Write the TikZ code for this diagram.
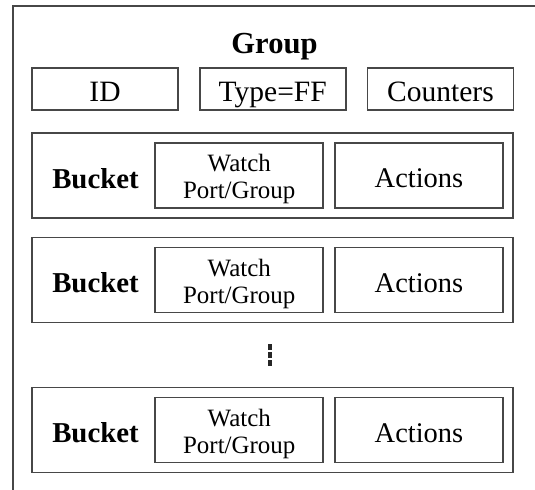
\documentclass[tikz,border=0pt]{standalone}
\usepackage{fontspec}
\setmainfont{Liberation Serif}
\usetikzlibrary{positioning}
\tikzset{
	box/.style={draw=black!72, line width=1pt, rectangle, inner sep=0pt, align=center},
	field/.style={box, minimum width=2.92cm, minimum height=0.84cm, text height=16pt, text depth=1.6pt, font=\fontsize{16.8}{18}\selectfont},
	bucketbox/.style={box, minimum width=9.62cm, minimum height=1.7cm},
	part/.style={box, minimum width=3.36cm, minimum height=1.3cm}
}
\newcommand{\sz}[1]{\fontsize{#1}{15.3}\selectfont}

\begin{document}
\begin{tikzpicture}[x=0.02cm, y=-0.02cm]
	\useasboundingbox (0,0) rectangle (535,490);
	\clip (0,0) rectangle (535,490);
	\node[box, anchor=north west, minimum width=11cm, minimum height=10.5cm] (group) at (12,5) {};
	\node[anchor=base, font=\bfseries\sz{17.4}] (title) at (274.5,53) {Group};
	% header fields
	\node[field] (id) at (105,89) {ID};
	\node[field, right=0.4cm of id] (type) {Type=FF};
	\node[field, right=0.4cm of type] (counters) {Counters};
	% buckets
	\foreach \i/\y in {1/175.5, 2/280, 3/430}{
		\node[bucketbox] (b\i) at (272.5,\y) {};
		\node[part, anchor=east, text height=15.5pt, text depth=1.6pt, font=\sz{16.2}] (b\i a) at ([xshift=-0.2cm]b\i.east) {Actions};
		\node[part, left=0.2cm of b\i a, font=\sz{14.2}] (b\i w) {\rule{0pt}{14pt}Watch\\Port/Group};
		\node[anchor=base, font=\bfseries\sz{16.4}] (b\i l) at (95.5,\y+12.8) {Bucket};
	}
	% vertical ellipsis
	\node[inner sep=0pt, minimum size=0.4cm] (dots) at (270,355) {};
	\foreach \d in {-8,0,8}
		\fill[black!85] ([yshift=\d*0.02cm]dots.center) +(-2.2,-2.6) rectangle +(2.2,2.6);
\end{tikzpicture}
\end{document}
